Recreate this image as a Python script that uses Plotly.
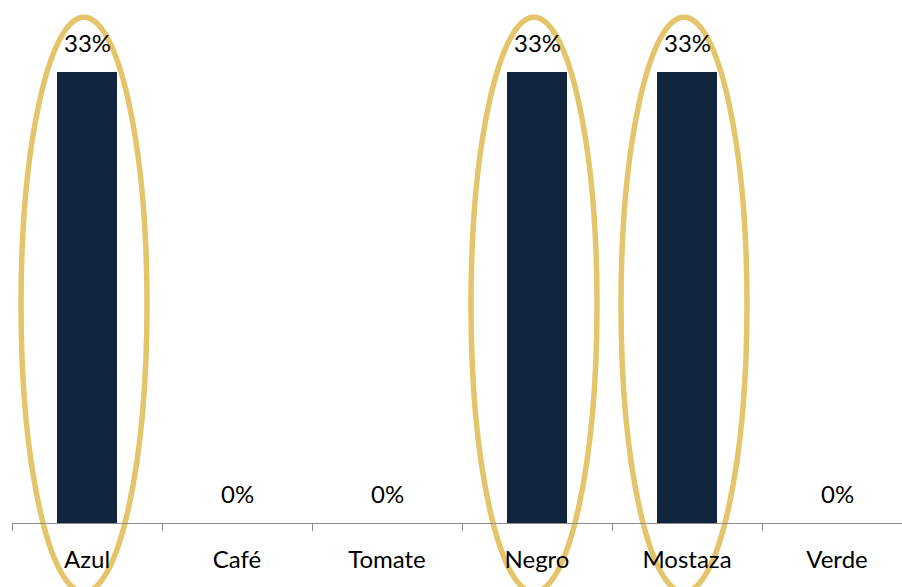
import plotly.graph_objects as go

# Share of responses per colour
categories = ["Azul", "Café", "Tomate", "Negro", "Mostaza", "Verde"]
shares = [0.33, 0.0, 0.0, 0.33, 0.33, 0.0]

BAR_COLOR = "#12253F"
RING_COLOR = "#E4C56B"
FONT = "Lato"
FONT_SIZE = 24

# axis ranges (the right-most category runs slightly past the edge)
x_range = [-0.5, 5.4333]
y_range = [0, 0.3827]

fig = go.Figure(
    go.Bar(
        x=categories,
        y=shares,
        marker=dict(color=BAR_COLOR, line=dict(width=0)),
        width=0.4,
        hoverinfo="skip",
    )
)

# value labels above each bar
for cat, v in zip(categories, shares):
    fig.add_annotation(
        x=cat, y=v, xref="x", yref="y",
        text=f"{round(v * 100)}%",
        showarrow=False,
        yanchor="bottom",
        yshift=13,
        font=dict(family=FONT, size=FONT_SIZE, color="#000000"),
    )

# gold rings highlighting the non-zero categories
def to_xdom(v):
    return (v - x_range[0]) / (x_range[1] - x_range[0])


def to_ydom(v):
    return (v - y_range[0]) / (y_range[1] - y_range[0])


ring_half_width = 0.42
ring_top = 0.370
ring_bottom = -0.0505
for i, v in enumerate(shares):
    if v > 0:
        fig.add_shape(
            type="circle",
            xref="x domain", yref="y domain",
            x0=to_xdom(i - 0.02 - ring_half_width), x1=to_xdom(i - 0.02 + ring_half_width),
            y0=to_ydom(ring_bottom), y1=to_ydom(ring_top),
            line=dict(color=RING_COLOR, width=5.5),
            fillcolor="rgba(0,0,0,0)",
            layer="below",
        )

fig.update_layout(
    width=902,
    height=587,
    margin=dict(l=12, r=0, t=0, b=64),
    paper_bgcolor="white",
    plot_bgcolor="white",
    showlegend=False,
    font=dict(family=FONT, size=FONT_SIZE, color="#000000"),
    xaxis=dict(
        range=x_range,
        showline=True,
        linecolor="#8C8C8C",
        linewidth=1,
        ticks="outside",
        tickson="boundaries",
        ticklen=7,
        tickcolor="#8C8C8C",
        tickwidth=1,
        showgrid=False,
        ticklabelstandoff=15,
        tickfont=dict(family=FONT, size=FONT_SIZE, color="#000000"),
        fixedrange=True,
        layer="above traces",
    ),
    yaxis=dict(
        range=y_range,
        visible=False,
        showgrid=False,
        zeroline=False,
        fixedrange=True,
    ),
)

fig.write_html("out.html")
